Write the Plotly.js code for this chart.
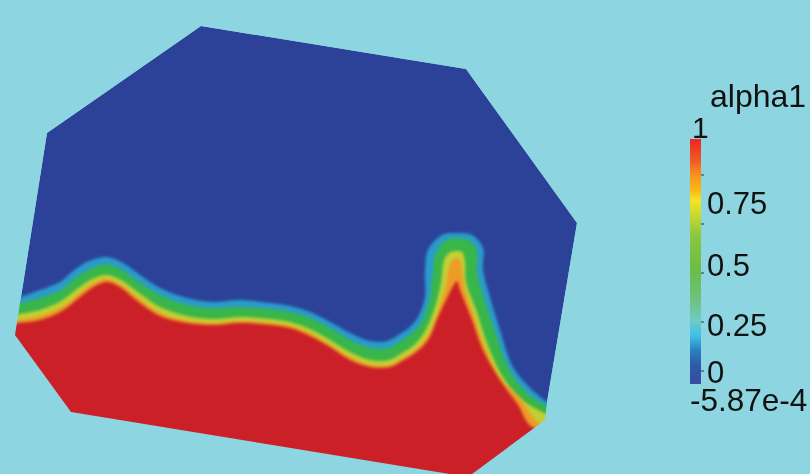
<!DOCTYPE html>
<html><head><meta charset="utf-8">
<script src="https://cdn.plot.ly/plotly-3.0.1.min.js"></script>
<style>html,body{margin:0;padding:0;background:#8dd6e1}#g{width:810px;height:474px}</style>
</head><body><div id="g"></div>
<script>
// Domain outline
var domainX=[201,466,577,547,545,468,71,15,47];
var domainY=[26,69,223,402,420,477,412,335,133];
// Path that closes each isoline region, lying outside the domain
var closeX=[600,600,-20,-20];
var closeY=[440,500,500,340];
// Isolines of alpha1, from left wall to right wall
var topX=[21,40,60,72,87,107,123,140,160,187,213,240,270,290,310,330,350,370,387,400,410,418,425,425,428,442,458,472,483,483,490,500,513,530,547];
var topY=[297,290,282,272,262,257,263,275,288,298,302,300,303,306,312,322,333,341,341,334,327,317,297,270,250,235,233,235,248,270,297,330,367,388,402];
var greenX=[20,40,61,74,90,107,122,139,160,187,214,240,270,290,310,330,350,370,388,401,412,421,429,433,435,445,458,470,477,477,484,495,509,526,546];
var greenY=[303,298,290,279,269,264,270,282,295,305,308,307,309,312,318,328,340,348,348,341,333,323,302,272,255,241,238,241,251,272,298,331,369,392,406];
var limeX=[19,40,61,77,92,107,121,138,160,187,214,240,270,290,310,330,350,370,389,402,413,424,434,441,444,449,456,462,465,466,477,487,503,521,546];
var limeY=[314,310,301,289,279,275,280,292,307,316,319,317,319,322,329,340,352,360,360,353,346,333,310,283,260,253,251,252,262,282,312,343,377,399,414];
var yellowX=[18,40,62,79,94,107,120,137,160,187,215,240,270,290,310,330,350,370,390,402,414,427,437,446,449,452,456,460,462,465,474,485,501,521,539];
var yellowY=[320,316,307,294,283,279,284,297,313,321,323,321,323,326,333,345,357,365,365,359,351,338,315,285,268,261,258,260,270,290,316,348,379,399,423];
var redX=[17,40,62,80,95,107,120,136,160,187,215,240,270,290,310,330,350,370,390,402,415,428,438,447,451,455,457,458,460,464,472,483,500,518,532];
var redY=[323,320,311,297,286,282,287,300,316,323,325,323,325,328,336,347,360,367,367,361,353,340,317,298,290,283,281,283,290,300,320,350,380,405,427];
// Colour bar
var barValues=[1,1,0.914,0.853,0.792,0.751,0.69,0.608,0.465,0.343,0.261,0.2,0.139,0.078,0,0];
var barColors=['#ee2a24','#f15a25','#f7941d','#fdb913','#f4e425','#c8d82e','#8cc63f','#6abd45','#70c27f','#6fcbc5','#40c0e8','#2a7fc0','#2e5aa8','#3a4ba0'];
var barStops=[1,0.914,0.853,0.792,0.751,0.69,0.608,0.465,0.343,0.261,0.2,0.139,0.078,0];
var barRowY=[139.5,140.5,160,175,190,200,215,235,270,300,320,335,350,365,382.5,383.5];
var barColX=[692.75,698.25];
var tickLabels=['1','0.75','0.5','0.25','0','-5.87e-4'];
var tickLabelX=[692,707,707,707,707,690];
var tickLabelY=[127,203,265,325,372,400];
var tickLabelSize=[30,31,31,31,31,31.5];
var tickMarkY=[175,224,273,322,371];
var title='alpha1';

var FIELD_BLUE='#2c4299';
var BG='#8dd6e1';
function region(xs,ys,color){
  return {x:xs.concat(closeX),y:ys.concat(closeY),mode:'lines',line:{width:0,shape:'spline',smoothing:1},
    fill:'toself',fillcolor:color,hoverinfo:'skip',showlegend:false};
}
var traces=[
  {x:domainX,y:domainY,mode:'lines',line:{width:0},fill:'toself',fillcolor:FIELD_BLUE,hoverinfo:'skip',showlegend:false},
  region(topX,topY,'#2a9ccb'),
  region(greenX,greenY,'#38b64a'),
  region(limeX,limeY,'#c4cf33'),
  region(yellowX,yellowY,'#ee9a28'),
  region(redX,redY,'#cb2027')
];
// Background mask outside the domain, so every isoline stops at the wall
var maskX=[-30,640,640,-30,-30,domainX[0]].concat(domainX.slice(1).reverse(),[domainX[0],-30]);
var maskY=[-30,-30,510,510,-30,domainY[0]].concat(domainY.slice(1).reverse(),[domainY[0],-30]);
traces.push({x:maskX,y:maskY,mode:'lines',line:{width:0},fill:'toself',fillcolor:BG,hoverinfo:'skip',showlegend:false});

var stops=barStops.map(function(v,i){return [v,barColors[i]];}).reverse();
traces.push({type:'heatmap',x:barColX,y:barRowY,
  z:barValues.map(function(v){return [v,v];}),
  zmin:0,zmax:1,colorscale:stops,showscale:false,zsmooth:'best',hoverinfo:'skip'});
var tx=[],ty=[];
tickMarkY.forEach(function(y){tx.push(701,704,null);ty.push(y,y,null);});
traces.push({x:tx,y:ty,mode:'lines',line:{color:'#333',width:1},hoverinfo:'skip',showlegend:false});

var anns=tickLabels.map(function(t,i){
  return {x:tickLabelX[i],y:tickLabelY[i],xref:'x',yref:'y',text:t,showarrow:false,xanchor:'left',yanchor:'middle',
    xshift:-2,font:{family:'Liberation Sans',size:tickLabelSize[i],color:'#111'}};
});
anns.push({x:710,y:96,xref:'x',yref:'y',text:title,showarrow:false,xanchor:'left',yanchor:'middle',
  xshift:-2,font:{family:'Liberation Sans',size:32,color:'#111'}});

var layout={width:810,height:474,margin:{l:0,r:0,t:0,b:0},
  paper_bgcolor:BG,plot_bgcolor:BG,showlegend:false,
  xaxis:{range:[0,810],visible:false,fixedrange:true},
  yaxis:{range:[474,0],visible:false,fixedrange:true},
  annotations:anns};
Plotly.newPlot('g',traces,layout,{displayModeBar:false,staticPlot:true}).then(function(){
  var groups=document.querySelectorAll('.scatterlayer .trace');
  for(var i=1;i<=5;i++){ if(groups[i]) groups[i].style.filter='blur(1.7px)'; }
  if(groups[6]) groups[6].style.filter='blur(0.7px)';
  document.querySelectorAll('.annotation').forEach(function(a){a.style.filter='blur(0.5px)';});
});
</script></body></html>
